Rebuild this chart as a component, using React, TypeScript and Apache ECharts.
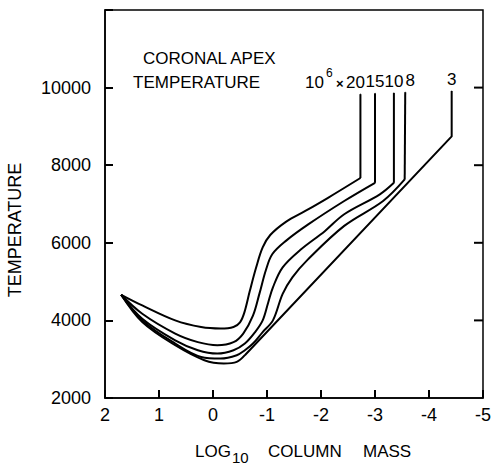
import React, { useEffect, useRef } from "react";
import * as echarts from "echarts";

// Coronal apex temperature labels (x 10^6)
const apexLabels = ["20", "15", "10", "8", "3"];

// Smooth parts of each curve: [log10 column mass, temperature]
const curve20 = [
  [1.7, 4660], [1.31, 4385], [0.7, 4000], [0.22, 3828], [-0.14, 3790], [-0.38, 3830],
  [-0.5, 3950], [-0.58, 4200], [-0.68, 4750], [-0.8, 5370], [-0.92, 5880], [-1.06, 6200],
  [-1.35, 6540], [-1.71, 6820], [-2.13, 7160], [-2.73, 7670],
];
const curve15 = [
  [1.7, 4660], [1.31, 4170], [0.7, 3660], [0.28, 3440], [-0.08, 3360], [-0.38, 3440],
  [-0.56, 3660], [-0.74, 4120], [-0.86, 4690], [-0.98, 5300], [-1.1, 5710], [-1.35, 6050],
  [-1.77, 6480], [-2.43, 7077], [-3.0, 7546],
];
const curve10 = [
  [1.7, 4660], [1.31, 4044], [0.7, 3487], [0.28, 3231], [-0.08, 3146], [-0.38, 3231],
  [-0.59, 3403], [-0.78, 3700], [-0.92, 4000], [-1.02, 4450], [-1.11, 4854], [-1.29, 5367],
  [-1.62, 5820], [-2.07, 6300], [-2.43, 6736], [-3.09, 7249], [-3.35, 7546],
];
const curve8 = [
  [1.7, 4660], [1.31, 4000], [0.7, 3403], [0.22, 3059], [-0.14, 3018], [-0.44, 3103],
  [-0.59, 3231], [-0.74, 3403], [-0.92, 3700], [-1.11, 4000], [-1.29, 4684], [-1.47, 5110],
  [-1.75, 5560], [-2.43, 6436], [-3.15, 7077], [-3.55, 7633],
];
const curve3 = [
  [1.7, 4660], [1.31, 3956], [0.7, 3359], [0.16, 2974], [-0.2, 2890], [-0.44, 2931],
  [-0.59, 3103],
];

// Straight tails (ending in the vertical rise to the top)
const tail20 = [[-2.73, 9830]];
const tail15 = [[-3.0, 9850]];
const tail10 = [[-3.35, 9860]];
const tail8 = [[-3.56, 9880]];
const tail3 = [[-4.42, 8743], [-4.42, 9910]];

const xTicks = [2, 1, 0, -1, -2, -3, -4, -5];
const yTicks = [2000, 4000, 6000, 8000, 10000];
// Tick marks on the right-hand frame
const yRightTicks = [4000, 6000, 8000, 10000];

const curves = [curve20, curve15, curve10, curve8, curve3];
const tails = [tail20, tail15, tail10, tail8, tail3];
const labelOffsets = [[-5, 0], [0, 0], [0, 0], [5, 0], [0, 0]];

const FONT = "Liberation Sans";
const X_MIN = -5;
const X_MAX = 2;
const Y_MIN = 2000;
const Y_MAX = 12000;

export default function App() {
  const ref = useRef<HTMLDivElement>(null);
  useEffect(() => {
    if (!ref.current) return;
    const chart = echarts.init(ref.current, null, { renderer: "svg" });
    const series: any[] = [];
    curves.forEach((c, i) => {
      series.push({
        type: "line",
        data: c,
        smooth: 0.35,
        showSymbol: false,
        lineStyle: { color: "#000", width: 2 },
        z: 3,
      });
      const t = tails[i];
      const tData: any[] = [c[c.length - 1], ...t.slice(0, -1)].map((p) => ({ value: p }));
      tData.push({
        value: t[t.length - 1],
        label: {
          show: true,
          position: "top",
          distance: 3,
          offset: labelOffsets[i],
          formatter: apexLabels[i],
          color: "#000",
          fontSize: 17,
          fontFamily: FONT,
        },
      });
      series.push({
        type: "line",
        data: tData,
        smooth: false,
        showSymbol: true,
        showAllSymbol: true,
        symbol: "circle",
        symbolSize: 1,
        itemStyle: { color: "#000" },
        lineStyle: { color: "#000", width: 2 },
        z: 3,
      });
    });

    // right-frame tick marks, placed through the axes' scales
    series.push({
      type: "custom",
      data: yRightTicks.map((v) => [X_MIN, v]),
      encode: { x: 0, y: 1 },
      z: 10,
      renderItem: (params: any, api: any) => {
        const p = api.coord([api.value(0), api.value(1)]);
        return {
          type: "line",
          shape: { x1: p[0], y1: p[1], x2: p[0] - 9, y2: p[1] },
          style: { stroke: "#000", lineWidth: 2 },
        };
      },
    });

    chart.setOption({
      animation: false,
      grid: {
        left: 105,
        right: 2,
        top: 10,
        bottom: 66,
        show: true,
        borderColor: "#000",
        borderWidth: 1.5,
        backgroundColor: "transparent",
      },
      xAxis: {
        type: "value",
        min: X_MIN,
        max: X_MAX,
        interval: 1,
        inverse: true,
        splitLine: { show: false },
        axisLine: { show: true, onZero: false, lineStyle: { color: "#000", width: 1.5 } },
        axisTick: { show: true, inside: true, length: 8, lineStyle: { color: "#000", width: 2 } },
        axisLabel: {
          show: true,
          margin: 8,
          color: "#000",
          fontSize: 18,
          fontFamily: FONT,
          showMinLabel: true,
          showMaxLabel: true,
          formatter: (v: number) => (xTicks.includes(v) ? String(v) : ""),
        },
      },
      yAxis: {
        type: "value",
        min: Y_MIN,
        max: Y_MAX,
        interval: 2000,
        splitLine: { show: false },
        axisLine: { show: true, onZero: false, lineStyle: { color: "#000", width: 1.5 } },
        axisTick: { show: true, inside: true, length: 8, lineStyle: { color: "#000", width: 2 } },
        axisLabel: {
          margin: 14,
          color: "#000",
          fontSize: 18,
          fontFamily: FONT,
          formatter: (v: number) => (yTicks.includes(v) ? String(v) : ""),
        },
      },
      graphic: [
        {
          type: "text",
          x: 143,
          y: 58,
          style: { text: "CORONAL APEX", fill: "#000", font: `17px "${FONT}"`, verticalAlign: "middle" },
        },
        {
          type: "text",
          x: 133,
          y: 82,
          style: { text: "TEMPERATURE", fill: "#000", font: `17px "${FONT}"`, verticalAlign: "middle" },
        },
        {
          type: "text",
          x: 305,
          y: 82,
          style: { text: "10", fill: "#000", font: `17px "${FONT}"`, verticalAlign: "middle" },
        },
        {
          type: "text",
          x: 326,
          y: 73,
          style: { text: "6", fill: "#000", font: `12px "${FONT}"`, verticalAlign: "middle" },
        },
        {
          type: "text",
          x: 336,
          y: 83,
          style: { text: "×", fill: "#000", font: `bold 13px "${FONT}"`, verticalAlign: "middle" },
        },
        {
          type: "text",
          x: 15,
          y: 230,
          rotation: Math.PI / 2,
          style: { text: "TEMPERATURE", fill: "#000", font: `18px "${FONT}"`, align: "center", verticalAlign: "middle" },
        },
        {
          type: "text",
          x: 195,
          y: 451,
          style: { text: "LOG", fill: "#000", font: `17px "${FONT}"`, verticalAlign: "middle" },
        },
        {
          type: "text",
          x: 232,
          y: 457,
          style: { text: "10", fill: "#000", font: `15px "${FONT}"`, verticalAlign: "middle" },
        },
        {
          type: "text",
          x: 268,
          y: 451,
          style: { text: "COLUMN", fill: "#000", font: `17px "${FONT}"`, verticalAlign: "middle" },
        },
        {
          type: "text",
          x: 363,
          y: 451,
          style: { text: "MASS", fill: "#000", font: `17px "${FONT}"`, verticalAlign: "middle" },
        },
      ],
      series,
    });
    return () => chart.dispose();
  }, []);
  return (
    <div
      ref={ref}
      style={{ position: "absolute", left: 0, top: 0, width: 494, height: 464, background: "#fff" }}
    />
  );
}
